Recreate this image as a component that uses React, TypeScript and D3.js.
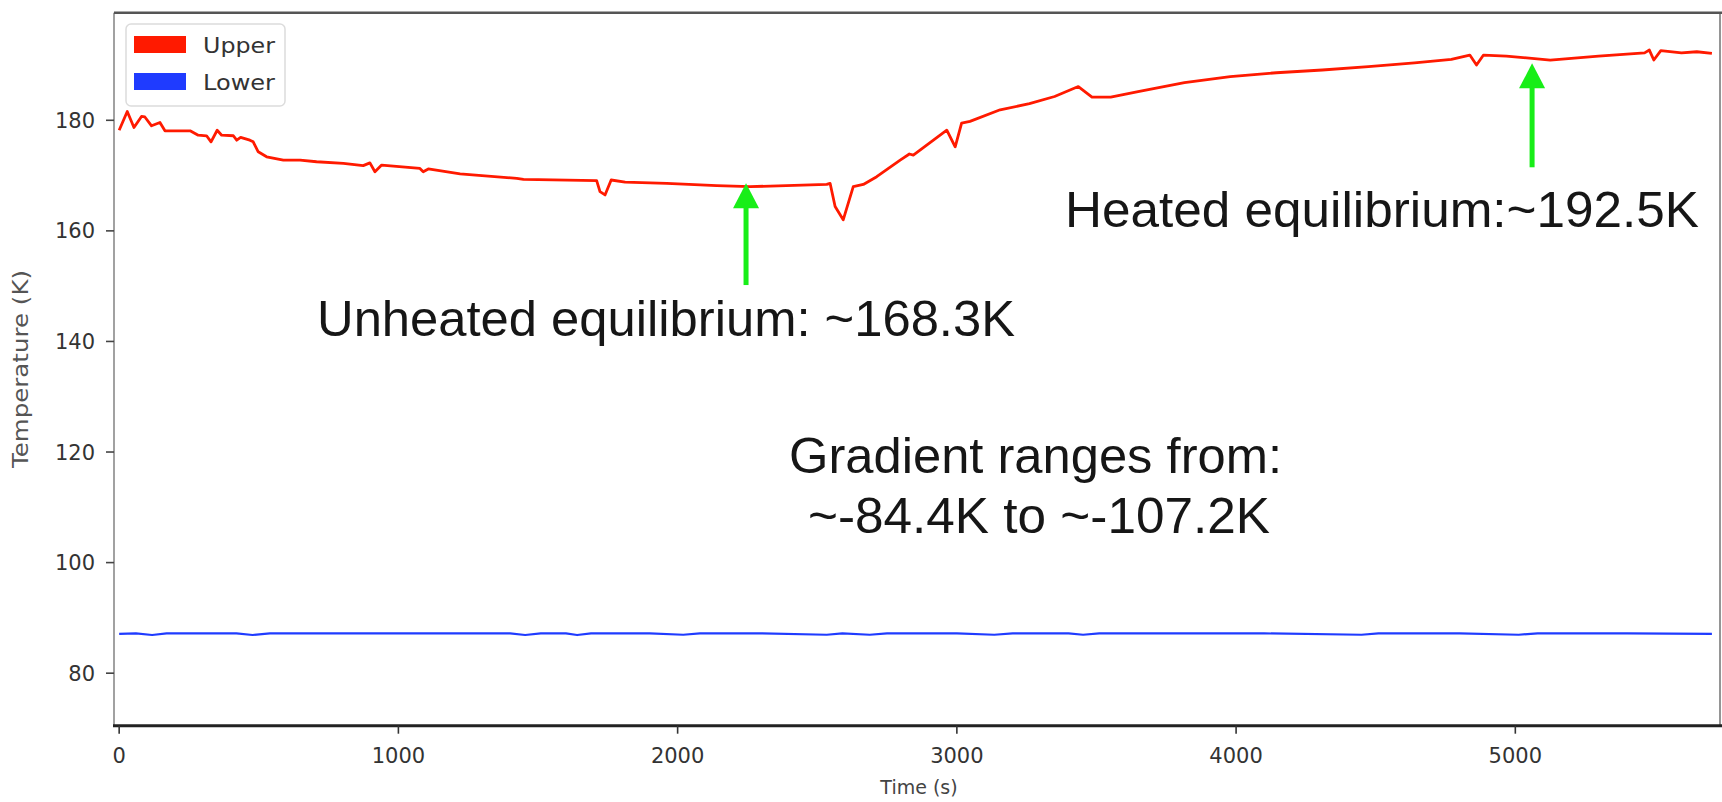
import React from "react";
import * as d3 from "d3";

const upperTime = [0, 29, 53, 80, 92, 116, 146, 164, 254, 283, 313, 329, 351, 367, 409, 421, 435, 468, 480, 498, 528, 588, 648, 707, 803, 874, 898, 916, 940, 1077, 1089, 1107, 1221, 1424, 1448, 1710, 1722, 1740, 1762, 1812, 1961, 2140, 2259, 2534, 2546, 2564, 2593, 2629, 2665, 2713, 2797, 2830, 2844, 2964, 2994, 3017, 3047, 3155, 3260, 3350, 3435, 3484, 3551, 3649, 3815, 3979, 4144, 4309, 4474, 4639, 4771, 4837, 4861, 4886, 4968, 5125, 5298, 5463, 5480, 5496, 5521, 5595, 5650, 5704];
const upperTemp = [178.2, 181.6, 178.7, 180.7, 180.6, 179.0, 179.6, 178.1, 178.1, 177.3, 177.2, 176.1, 178.2, 177.3, 177.2, 176.4, 176.9, 176.4, 176.1, 174.3, 173.4, 172.8, 172.8, 172.5, 172.2, 171.8, 172.3, 170.7, 171.9, 171.3, 170.7, 171.2, 170.3, 169.5, 169.3, 169.1, 167.1, 166.5, 169.2, 168.8, 168.6, 168.2, 168.0, 168.4, 168.6, 164.4, 162.0, 168.0, 168.4, 169.8, 172.8, 173.9, 173.7, 178.2, 175.2, 179.5, 179.8, 181.9, 183.0, 184.3, 186.1, 184.2, 184.2, 185.2, 186.8, 187.9, 188.6, 189.1, 189.7, 190.4, 191.0, 191.8, 190.0, 191.8, 191.6, 190.9, 191.6, 192.2, 192.7, 190.9, 192.6, 192.2, 192.4, 192.1];

const lowerTime = [0, 60, 118, 170, 300, 420, 478, 540, 800, 1100, 1400, 1454, 1510, 1600, 1640, 1690, 1900, 2020, 2080, 2300, 2534, 2590, 2688, 2750, 3000, 3134, 3200, 3400, 3452, 3510, 3800, 4100, 4449, 4510, 4800, 5012, 5080, 5400, 5704];
const lowerTemp = [87.1, 87.2, 86.9, 87.2, 87.2, 87.2, 86.9, 87.2, 87.2, 87.2, 87.2, 86.9, 87.2, 87.2, 86.9, 87.2, 87.2, 86.95, 87.2, 87.2, 86.95, 87.2, 86.95, 87.2, 87.2, 86.95, 87.2, 87.2, 86.95, 87.2, 87.2, 87.2, 86.95, 87.2, 87.2, 86.95, 87.2, 87.2, 87.1];

const xTicks = [0, 1000, 2000, 3000, 4000, 5000];
const yTicks = [80, 100, 120, 140, 160, 180];

const legendItems = ["Upper", "Lower"];
const seriesColors = ["#ff1a00", "#1f3bff"];

const arrows = [
  { t: 2245, tipT: 168.6, tailT: 150.2 },
  { t: 5060, tipT: 190.3, tailT: 171.5 },
];

const W = 1722;
const H = 802;
const M = { left: 114, right: 1720, top: 12.7, bottom: 725.7 };

export default function App() {
  const x = d3.scaleLinear().domain([-18.5, 5733]).range([M.left, M.right]);
  const y = d3.scaleLinear().domain([70.5, 199.46]).range([M.bottom, M.top]);

  const line = d3
    .line<[number, number]>()
    .x((d) => x(d[0]))
    .y((d) => y(d[1]));

  const upper = upperTime.map((t, i) => [t, upperTemp[i]] as [number, number]);
  const lower = lowerTime.map((t, i) => [t, lowerTemp[i]] as [number, number]);

  const tickFont = "DejaVu Sans, sans-serif";
  const annFont = "'Liberation Sans', Arial, sans-serif";
  const annColor = "#161616";

  return (
    <svg
      width={W}
      height={H}
      style={{ position: "absolute", left: 0, top: 0, background: "#fff" }}
    >
      <defs>
        <clipPath id="plot">
          <rect x={M.left} y={M.top} width={M.right - M.left} height={M.bottom - M.top} />
        </clipPath>
      </defs>
      <rect x={0} y={0} width={W} height={H} fill="#fff" />

      {/* lines */}
      <g clipPath="url(#plot)" fill="none" strokeLinejoin="round">
        <path d={line(lower) || ""} stroke={seriesColors[1]} strokeWidth={2.2} />
        <path d={line(upper) || ""} stroke={seriesColors[0]} strokeWidth={2.8} />
      </g>

      {/* spines */}
      <line x1={M.left} x2={M.left} y1={M.top} y2={M.bottom} stroke="#8a8a8a" strokeWidth={1.6} />
      <line x1={M.right} x2={M.right} y1={M.top} y2={M.bottom} stroke="#8a8a8a" strokeWidth={1.8} />
      <line x1={M.left} x2={W} y1={M.top} y2={M.top} stroke="#555" strokeWidth={2.6} />
      <line x1={M.left - 1} x2={W} y1={M.bottom} y2={M.bottom} stroke="#222" strokeWidth={3} />

      {/* y ticks */}
      {yTicks.map((v) => (
        <g key={"y" + v}>
          <line x1={M.left - 8} x2={M.left} y1={y(v)} y2={y(v)} stroke="#444" strokeWidth={1.6} />
          <text
            x={M.left - 19}
            y={y(v)}
            dy="0.36em"
            textAnchor="end"
            fontFamily={tickFont}
            fontSize={21}
            fill="#333"
          >
            {v}
          </text>
        </g>
      ))}

      {/* x ticks */}
      {xTicks.map((v) => (
        <g key={"x" + v}>
          <line x1={x(v)} x2={x(v)} y1={M.bottom} y2={M.bottom + 8} stroke="#333" strokeWidth={1.6} />
          <text
            x={x(v)}
            y={763}
            textAnchor="middle"
            fontFamily={tickFont}
            fontSize={21}
            fill="#333"
          >
            {v}
          </text>
        </g>
      ))}

      {/* axis labels */}
      <text x={919} y={794} textAnchor="middle" fontFamily={tickFont} fontSize={19} fill="#444">
        Time (s)
      </text>
      <text
        transform={`translate(28,369) rotate(-90)`}
        textAnchor="middle"
        fontFamily={tickFont}
        fontSize={22}
        fill="#555"
        textLength={198}
        lengthAdjust="spacingAndGlyphs"
      >
        Temperature (K)
      </text>

      {/* legend */}
      <rect x={126} y={24} width={159} height={82} rx={5} fill="#fff" stroke="#dcdcdc" strokeWidth={1.5} />
      {legendItems.map((name, i) => (
        <g key={name}>
          <rect x={134} y={36 + i * 37} width={52} height={17} fill={seriesColors[i]} />
          <text
            x={203}
            y={45 + i * 37}
            dy="0.36em"
            fontFamily={tickFont}
            fontSize={22}
            fill="#333"
            textLength={72}
            lengthAdjust="spacingAndGlyphs"
          >
            {name}
          </text>
        </g>
      ))}

      {/* arrows */}
      {arrows.map((a, i) => {
        const ax = x(a.t);
        const tip = y(a.tipT);
        const tail = y(a.tailT);
        const headLen = 25;
        const headW = 13;
        return (
          <g key={"a" + i} fill="#18ee18" stroke="none">
            <rect x={ax - 2.5} y={tip + headLen - 1} width={5} height={tail - tip - headLen + 1} />
            <path d={`M${ax},${tip} L${ax - headW},${tip + headLen} L${ax + headW},${tip + headLen} Z`} />
          </g>
        );
      })}

      {/* annotations */}
      <text x={317} y={336} fontFamily={annFont} fontSize={50} fill={annColor} textLength={698} lengthAdjust="spacingAndGlyphs">
        Unheated equilibrium: ~168.3K
      </text>
      <text x={1065} y={227} fontFamily={annFont} fontSize={50} fill={annColor} textLength={634} lengthAdjust="spacingAndGlyphs">
        Heated equilibrium:~192.5K
      </text>
      <text x={789} y={473} fontFamily={annFont} fontSize={50} fill={annColor} textLength={493} lengthAdjust="spacingAndGlyphs">
        Gradient ranges from:
      </text>
      <text x={808} y={533} fontFamily={annFont} fontSize={50} fill={annColor} textLength={462} lengthAdjust="spacingAndGlyphs">
        ~-84.4K to ~-107.2K
      </text>
    </svg>
  );
}
